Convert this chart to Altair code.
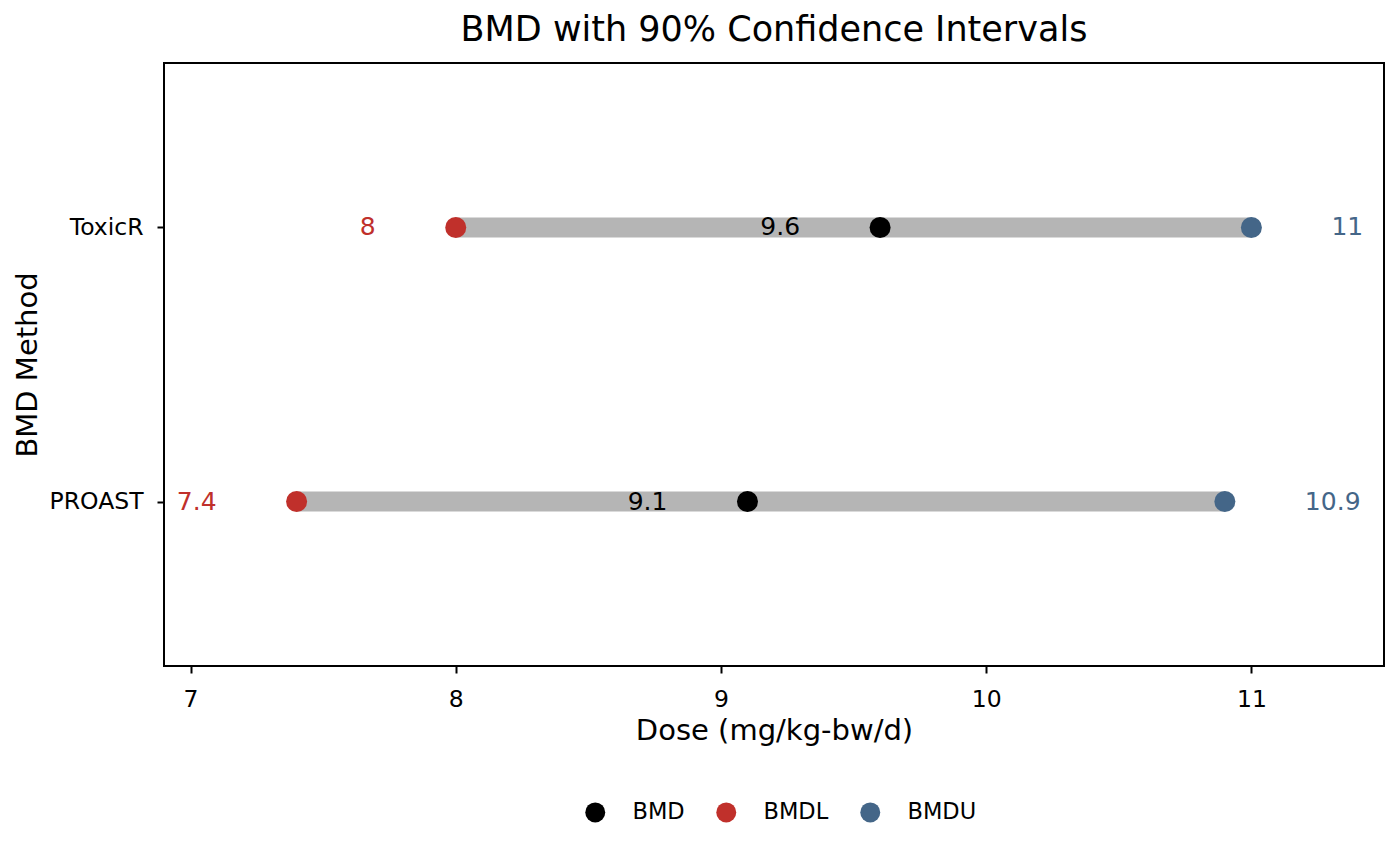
import altair as alt
import pandas as pd

methods = ["ToxicR", "PROAST"]
bmd = [9.6, 9.1]
bmdl = [8.0, 7.4]
bmdu = [11.0, 10.9]
types = ["BMD", "BMDL", "BMDU"]
type_colors = ["#000000", "#C0302B", "#446688"]
x_ticks = [7, 8, 9, 10, 11]

seg = pd.DataFrame({"method": methods, "lo": bmdl, "hi": bmdu})
rows = []
for m, a, l, u in zip(methods, bmd, bmdl, bmdu):
    for t, v in zip(types, [a, l, u]):
        rows.append({"method": m, "type": t, "value": v, "label": f"{v:g}"})
pts = pd.DataFrame(rows)

FONT = "DejaVu Sans"
yscale = alt.Scale(type="point", domain=methods, padding=0.6)
xscale = alt.Scale(domain=[6.9, 11.5], nice=False, zero=False)
cscale = alt.Scale(domain=types, range=type_colors)

xaxis = alt.Axis(values=x_ticks, format="d", title="Dose (mg/kg-bw/d)", grid=False, tickSize=7,
                 tickWidth=2, tickColor="black", domain=False, labelFontSize=23.5,
                 labelColor="black", labelPadding=14, titleFontSize=29, titleFontWeight="normal",
                 titleColor="black", titlePadding=6, labelFont=FONT, titleFont=FONT)
yaxis = alt.Axis(title="BMD Method", grid=False, tickSize=7, tickWidth=2, tickColor="black",
                 domain=False, labelFontSize=23.5, labelColor="black", labelPadding=14,
                 titleFontSize=29, titleFontWeight="normal", titleColor="black", titlePadding=7,
                 labelFont=FONT, titleFont=FONT)

rule = alt.Chart(seg).mark_rule(color="#B5B5B5", strokeWidth=20, strokeCap="butt").encode(
    x=alt.X("lo:Q", scale=xscale, axis=xaxis),
    x2="hi:Q",
    y=alt.Y("method:N", scale=yscale, axis=yaxis),
)

points = alt.Chart(pts).mark_circle(size=441, opacity=1).encode(
    x=alt.X("value:Q", scale=xscale),
    y=alt.Y("method:N", scale=yscale),
    color=alt.Color("type:N", scale=cscale, legend=alt.Legend(
        title=None, orient="none", direction="horizontal", legendX=420, legendY=738,
        symbolType="circle", symbolSize=400, labelFontSize=22.5, labelFont=FONT,
        labelColor="black", labelOffset=26, columnPadding=30, padding=0,
        symbolStrokeWidth=0)),
)

left_text = alt.Chart(pts).transform_filter(alt.datum.type != "BMDU").mark_text(
    align="right", baseline="middle", dx=-80, fontSize=25, font=FONT
).encode(
    x=alt.X("value:Q", scale=xscale),
    y=alt.Y("method:N", scale=yscale),
    text="label:N",
    color=alt.Color("type:N", scale=cscale, legend=None),
)

right_text = alt.Chart(pts).transform_filter(alt.datum.type == "BMDU").mark_text(
    align="left", baseline="middle", dx=80, fontSize=25, font=FONT
).encode(
    x=alt.X("value:Q", scale=xscale),
    y=alt.Y("method:N", scale=yscale),
    text="label:N",
    color=alt.Color("type:N", scale=cscale, legend=None),
)

chart = alt.layer(rule, points, left_text, right_text).properties(
    width=1220, height=603,
    title=alt.TitleParams("BMD with 90% Confidence Intervals", fontSize=35, font=FONT,
                          fontWeight="normal", color="black", anchor="middle", offset=15),
    autosize=alt.AutoSizeParams(type="none"),
    padding={"left": 156, "top": 55, "right": 8, "bottom": 190},
).configure(background="white").configure_view(stroke="black", strokeWidth=2)

chart.save("out.html", embed_options={"renderer": "svg", "actions": False})
